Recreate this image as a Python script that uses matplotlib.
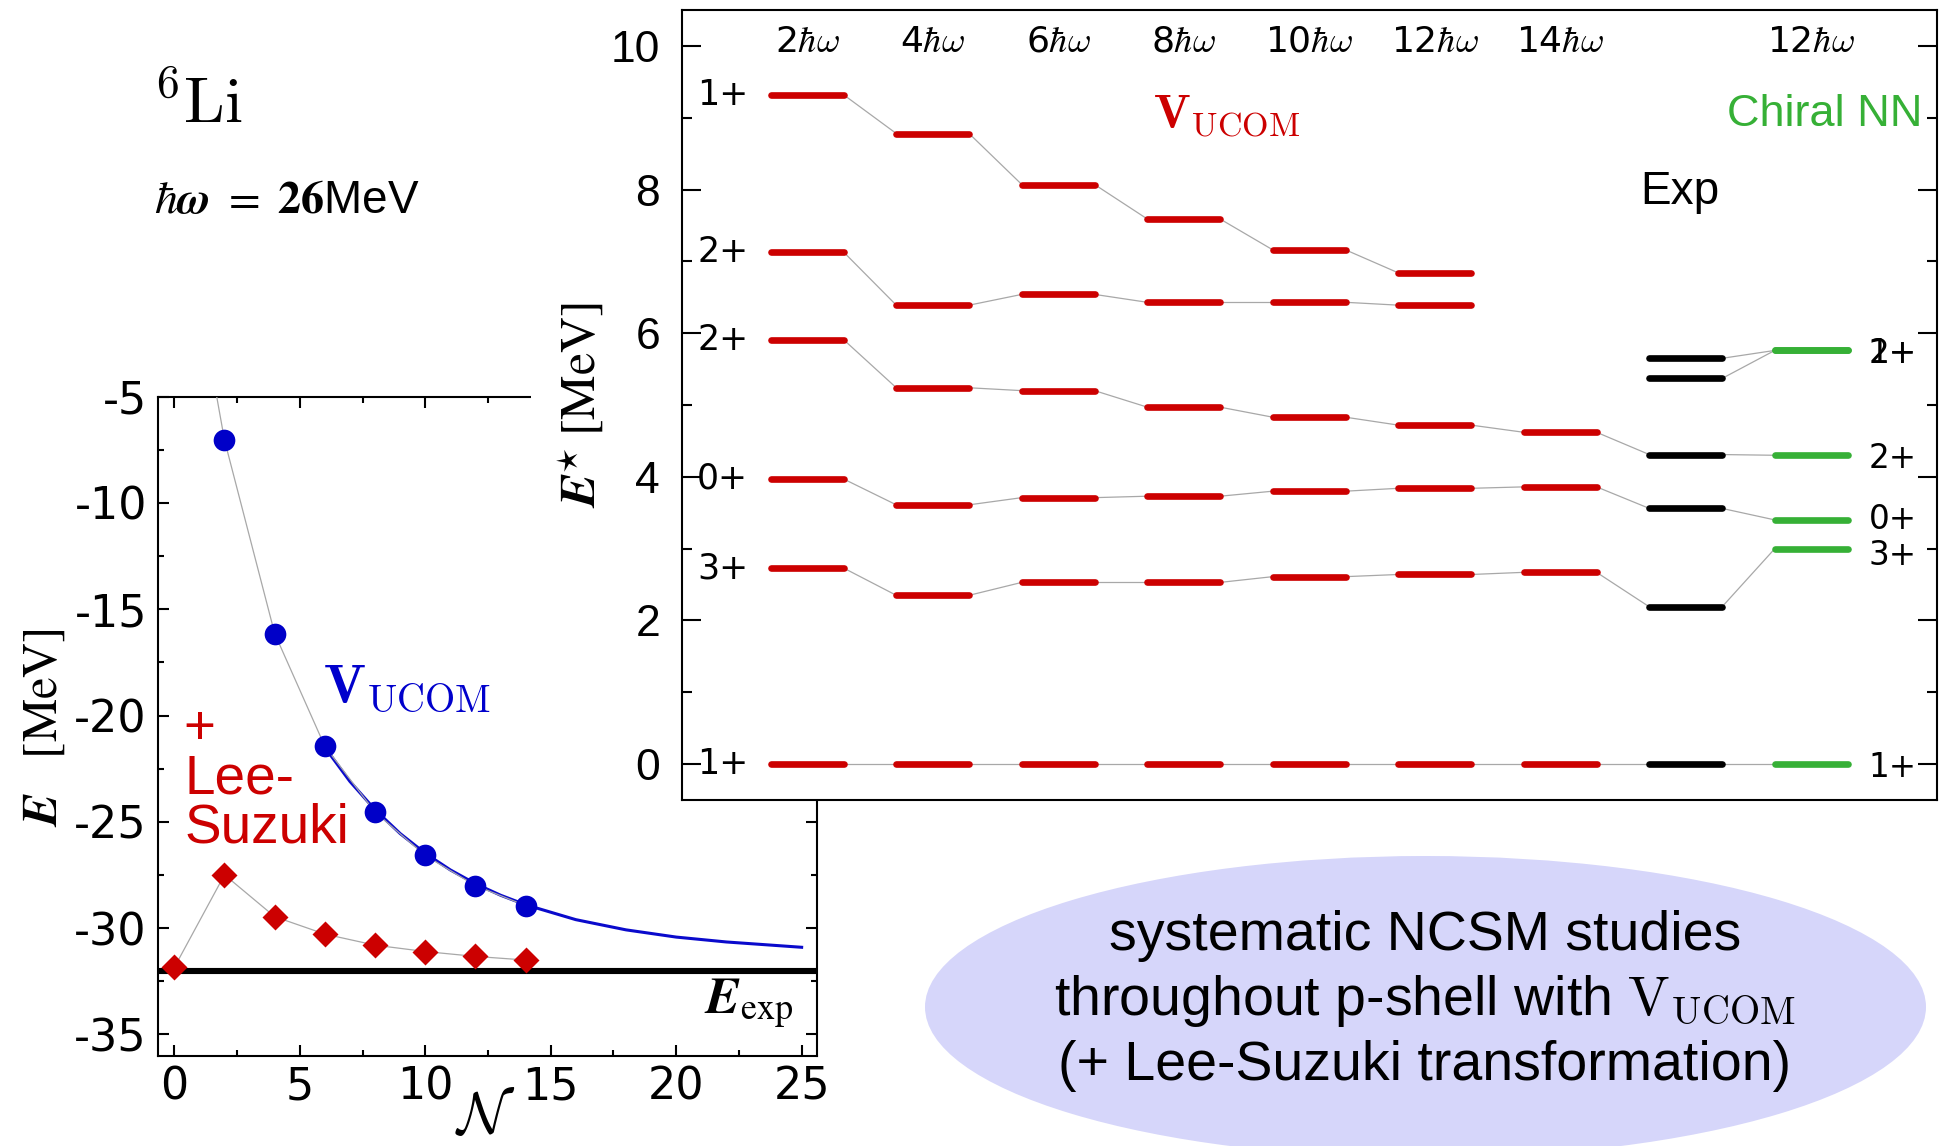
import matplotlib
matplotlib.use('Agg')
import matplotlib.pyplot as plt
from matplotlib.patches import Ellipse, Rectangle
from matplotlib.ticker import MultipleLocator
import numpy as np

plt.rcParams['font.family'] = ['Liberation Sans', 'DejaVu Sans']
plt.rcParams['axes.unicode_minus'] = False

# ---------------- left panel data: ground state energy vs N ----------------
N_ucom = [2, 4, 6, 8, 10, 12, 14]
E_ucom = [-7.04, -16.14, -21.45, -24.54, -26.58, -28.0, -28.94]
N_ucom_guide = [1.69, 2, 4, 6, 8, 10, 12, 14]
E_ucom_guide = [-5.0, -7.04, -16.14, -21.45, -24.54, -26.58, -28.0, -28.94]
N_ls = [0, 2, 4, 6, 8, 10, 12, 14]
E_ls = [-31.85, -27.49, -29.46, -30.28, -30.8, -31.1, -31.33, -31.5]
N_fit = [6, 7, 8, 9, 10, 11, 12, 13, 14, 16, 18, 20, 22, 25]
E_fit = [-21.5, -23.1, -24.43, -25.55, -26.48, -27.26, -27.91, -28.45, -28.9,
         -29.6, -30.08, -30.42, -30.65, -30.9]
E_exp = -32.0
left_xticks = [0, 5, 10, 15, 20, 25]
left_yticks = [-35, -30, -25, -20, -15, -10, -5]

# ---------------- right panel data: excitation spectra ----------------
col_labels = [r'2$\hbar\omega$', r'4$\hbar\omega$', r'6$\hbar\omega$', r'8$\hbar\omega$',
              r'10$\hbar\omega$', r'12$\hbar\omega$', r'14$\hbar\omega$', '', r'12$\hbar\omega$']
col_colors = ['#cc0000'] * 7 + ['black', '#36b036']
nan = np.nan
lvl_1p_b = [9.32, 8.78, 8.07, 7.59, 7.16, 6.84, nan, 5.65, 5.76]
lvl_2p_b = [7.13, 6.39, 6.54, 6.43, 6.43, 6.39, nan, 5.37, 5.76]
lvl_2p_a = [5.91, 5.24, 5.20, 4.97, 4.83, 4.72, 4.62, 4.31, 4.30]
lvl_0p = [3.97, 3.61, 3.71, 3.73, 3.80, 3.84, 3.86, 3.56, 3.40]
lvl_3p = [2.73, 2.35, 2.53, 2.53, 2.61, 2.64, 2.67, 2.19, 3.00]
lvl_1p_gs = [0, 0, 0, 0, 0, 0, 0, 0, 0]
states = [lvl_1p_b, lvl_2p_b, lvl_2p_a, lvl_0p, lvl_3p, lvl_1p_gs]
state_labels = ['1+', '2+', '2+', '0+', '3+', '1+']
right_yticks = [0, 2, 4, 6, 8, 10]

W, H = 1939, 1146
fig = plt.figure(figsize=(W / 100, H / 100), dpi=100)

# ---------------- left axes ----------------
axL = fig.add_axes([158 / W, 1 - 1055.7 / H, (816.7 - 158) / W, (1055.7 - 396.7) / H], zorder=1)
axL.set_xlim(-0.65, 25.6)
axL.set_ylim(-36, -5)
axL.axhline(E_exp, color='black', lw=4.4, zorder=2)
axL.plot(N_fit, E_fit, color='#0a0acc', lw=2.2, zorder=3)
axL.plot(N_ucom_guide, E_ucom_guide, color='#a8a8a8', lw=0.9, zorder=3.5)
axL.plot(N_ls, E_ls, color='#a8a8a8', lw=0.9, zorder=3.5)
axL.plot(N_ucom, E_ucom, 'o', color='#0000c8', ms=15.6, mec='none', zorder=5)
axL.plot(N_ls, E_ls, 'D', color='#cc0000', ms=13.5, mec='none', zorder=5)
axL.set_xticks(left_xticks)
axL.set_yticks(left_yticks)
axL.xaxis.set_minor_locator(MultipleLocator(2.5))
axL.yaxis.set_minor_locator(MultipleLocator(2.5))
axL.tick_params(which='both', direction='in', top=True, right=True, width=1.5,
                labelsize=32, labelfontfamily='DejaVu Sans')
axL.tick_params(which='major', length=7.7)
axL.tick_params(which='minor', length=4.3)
axL.tick_params(axis='x', pad=7.4)
axL.tick_params(axis='y', pad=8)
for s in axL.spines.values():
    s.set_linewidth(1.5)

axL.text(5.93, -19.37, r'$\mathbf{V}_{\mathrm{UCOM}}$', color='#0000cc', fontsize=40,
         math_fontfamily='cm', ha='left', va='baseline', zorder=6)
axL.text(0.35, -21.36, '+', color='#cc0000', fontsize=39.5, ha='left', va='baseline')
axL.text(0.39, -23.66, 'Lee-', color='#cc0000', fontsize=39.5, ha='left', va='baseline')
axL.text(0.39, -25.97, 'Suzuki', color='#cc0000', fontsize=39.5, ha='left', va='baseline')
axL.text(24.67, -34.02, r'$\boldsymbol{E}_{\mathrm{exp}}$', fontsize=37, math_fontfamily='stix',
         ha='right', va='baseline')

# white cover behind the right panel
fig.add_artist(Rectangle((531 / W, 1 - 800 / H), 1 - 531 / W, 800 / H, transform=fig.transFigure,
                         facecolor='white', edgecolor='none', zorder=1.5))

# ---------------- right axes ----------------
axR = fig.add_axes([681.7 / W, 1 - 800 / H, (1936.7 - 681.7) / W, (800 - 10) / H], zorder=2)
axR.set_xlim(0, 10)
axR.set_ylim(-0.5, 10.5)
hw = 0.29
xs = np.arange(1, len(col_labels) + 1)
for lv in states:
    for i in range(len(xs)):
        v = lv[i]
        if np.isnan(v):
            continue
        axR.plot([xs[i] - hw, xs[i] + hw], [v, v], color=col_colors[i], lw=4.8,
                 solid_capstyle='round', zorder=4)
        if i + 1 < len(xs) and not np.isnan(lv[i + 1]):
            axR.plot([xs[i] + hw, xs[i + 1] - hw], [v, lv[i + 1]], color='#a8a8a8',
                     lw=0.9, zorder=3)
# small vertical nudges for the two crowded right-hand labels (0+ / 3+)
right_nudge = {3: 0.05, 4: -0.05}
for k, (lv, lab) in enumerate(zip(states, state_labels)):
    axR.text(0.53, lv[0], lab, ha='right', va='center', fontsize=25, family='DejaVu Sans')
    axR.text(9.46, lv[-1] + right_nudge.get(k, 0.0), lab, ha='left', va='center_baseline',
             fontsize=23.5, family='DejaVu Sans')
for x, lab in zip(xs, col_labels):
    if lab:
        axR.text(x, 9.92, lab, ha='center', va='baseline', fontsize=26, family='DejaVu Sans',
                 math_fontfamily='cm')
axR.text(3.756, 8.87, r'$\mathbf{V}_{\mathrm{UCOM}}$', color='#cc0000', fontsize=35,
         math_fontfamily='cm', ha='left', va='baseline')
axR.text(9.11, 8.88, 'Chiral NN', color='#36b036', fontsize=32.5, ha='center', va='baseline')
axR.text(7.955, 7.80, 'Exp', color='black', fontsize=33, ha='center', va='baseline')

axR.set_xticks([])
axR.set_yticks(right_yticks)
axR.yaxis.set_minor_locator(MultipleLocator(1))
axR.tick_params(axis='y', which='both', direction='in', left=True, right=True, width=1.5,
                labelsize=32, pad=15.6)
axR.tick_params(axis='y', which='major', length=13.5)
axR.tick_params(axis='y', which='minor', length=7)
for s in axR.spines.values():
    s.set_linewidth(1.5)

# ---------------- figure-level annotations ----------------
fig.text(154 / W, 1 - 123 / H, r'${}^{\mathbf{6}}\mathrm{Li}$', fontsize=47, math_fontfamily='cm',
         ha='left', va='baseline')
fig.text(154 / W, 1 - 213 / H, r'$\hbar\boldsymbol{\omega}\ =\ \mathbf{26}$MeV', fontsize=33,
         math_fontfamily='stix', ha='left', va='baseline')
fig.text(44 / W, 1 - 728 / H, r'$\boldsymbol{E}\quad[\mathrm{MeV}]$', fontsize=35,
         math_fontfamily='stix', rotation=90, ha='center', va='center')
fig.text(581 / W, 1 - 405 / H, r'$\boldsymbol{E}^{\star}\;[\mathrm{MeV}]$', fontsize=36,
         math_fontfamily='stix', rotation=90, ha='center', va='center', zorder=5)
fig.text(485 / W, 1 - 1133 / H, r'$\mathcal{N}$', fontsize=42, math_fontfamily='cm',
         ha='center', va='baseline')

fig.add_artist(Ellipse((1425.5 / W, 1 - 1007 / H), 1001 / W, 302 / H, transform=fig.transFigure,
                       facecolor='#d6d6fa', edgecolor='none', zorder=1))
fig.text(1425 / W, 1 - 950 / H, 'systematic NCSM studies', fontsize=40, ha='center',
         va='baseline', zorder=3)
fig.text(1425 / W, 1 - 1015 / H, r'throughout p-shell with $\mathrm{V}_{\mathrm{UCOM}}$',
         fontsize=40, math_fontfamily='cm', ha='center', va='baseline', zorder=3)
fig.text(1425 / W, 1 - 1080 / H, '(+ Lee-Suzuki transformation)', fontsize=40, ha='center',
         va='baseline', zorder=3)

fig.savefig('out.png', dpi=100)
